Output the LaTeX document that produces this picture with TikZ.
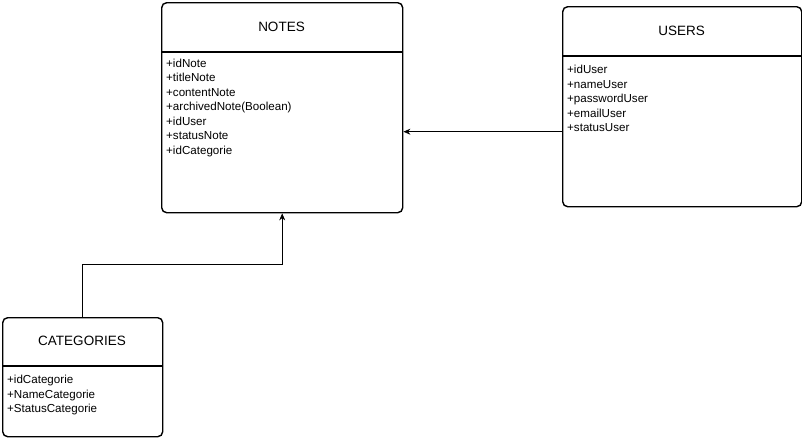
\documentclass[tikz,border=0pt]{standalone}
\usepackage{fontspec}
\setmainfont{Liberation Sans}
\usetikzlibrary{arrows.meta}
\begin{document}
\begin{tikzpicture}[x=1pt,y=-1pt,
  classbox/.style={draw, line width=1.4pt, rounded corners=5pt, inner sep=0pt, anchor=north west},
  classtitle/.style={font=\fontsize{13.5}{16}\selectfont, inner sep=0pt},
  attrs/.style={font=\fontsize{11.6}{14.5}\selectfont, align=left, inner sep=0pt, anchor=north west},
  divider/.style={line width=1.2pt},
  link/.style={line width=0.8pt, -{Stealth[length=7pt,width=6pt]}}]
\useasboundingbox (0,0) rectangle (802,437);

% NOTES
\node[classbox, minimum width=241pt, minimum height=210pt] (notes) at (161,2) {};
\draw[divider] (161,52) -- (402,52);
\node[classtitle] (notesT) at (281.5,27) {NOTES};
\node[attrs] (notesA) at (166,58.5) {+idNote\\+titleNote\\+contentNote\\+archivedNote(Boolean)\\+idUser\\+statusNote\\+idCategorie};

% USERS
\node[classbox, minimum width=239pt, minimum height=200pt] (users) at (562,6) {};
\draw[divider] (562,56) -- (801,56);
\node[classtitle] (usersT) at (681.5,31) {USERS};
\node[attrs] (usersA) at (567,65) {+idUser\\+nameUser\\+passwordUser\\+emailUser\\+statusUser};

% CATEGORIES
\node[classbox, minimum width=160pt, minimum height=119pt] (cat) at (2,317) {};
\draw[divider] (2,366) -- (162,366);
\node[classtitle] (catT) at (82,341) {CATEGORIES};
\node[attrs] (catA) at (7,375) {+idCategorie\\+NameCategorie\\+StatusCategorie};

% connectors
\draw[link] ([yshift=-25pt]users.west) -- ([yshift=-25pt]users.west -| notes.east);
\draw[link] (cat.north) -- ++(0,-53) -| (notes.south);
\end{tikzpicture}
\end{document}
